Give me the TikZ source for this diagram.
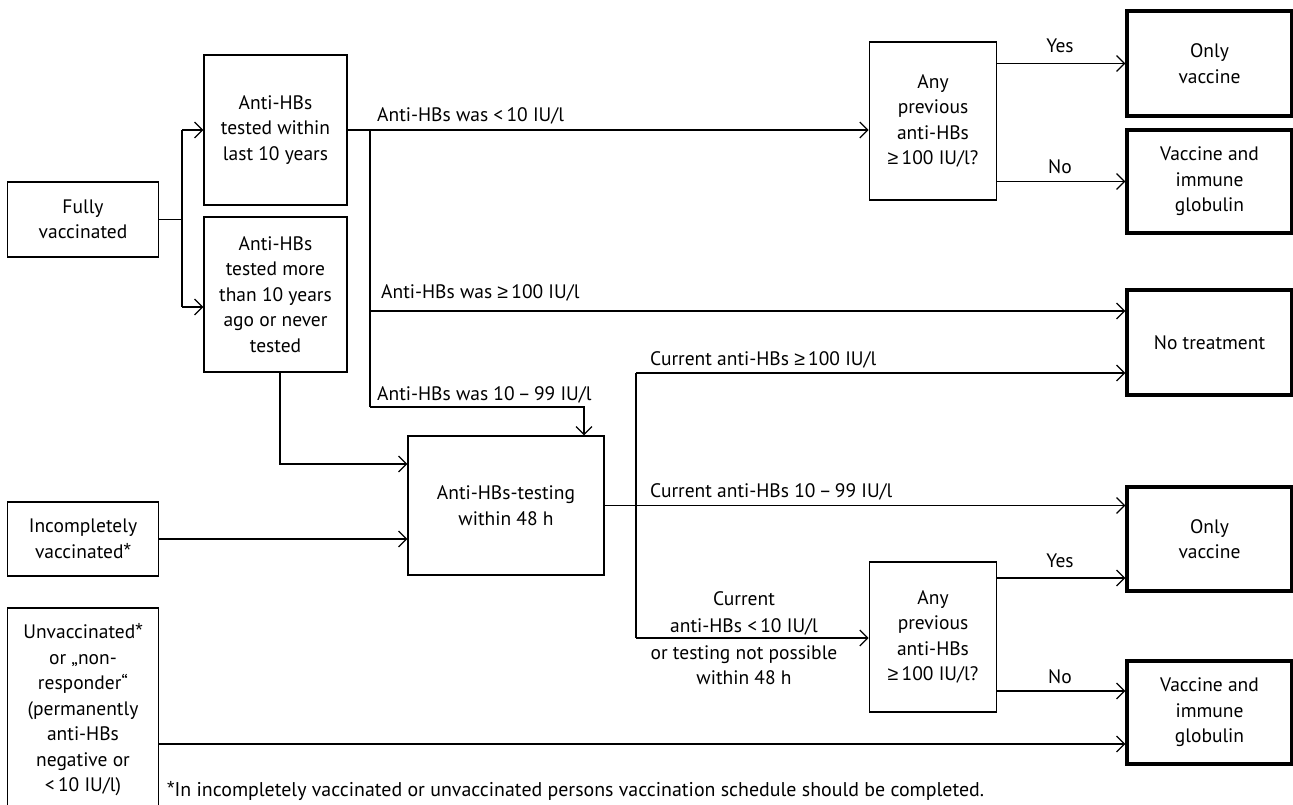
\documentclass[tikz,border=0pt]{standalone}
\usepackage{fontspec}
\setmainfont{PT Sans}
\newfontfamily\symf{Liberation Sans}
\newcommand{\gee}{{\symf ≥}}
\newcommand{\starmark}{{\symf\fontsize{19pt}{19pt}\selectfont\raisebox{2pt}{*}}}
\usetikzlibrary{arrows.meta}
\tikzset{
  every node/.style={font=\fontsize{19.5pt}{25.5pt}\selectfont},
  box/.style={draw, line width=1.2pt, align=center, inner sep=0pt},
  outbox/.style={draw, line width=3.2pt, align=center, inner sep=0pt, minimum width=165pt},
  ln/.style={line width=1.2pt},
  arr/.style={line width=1.2pt, -{Straight Barb[length=8pt,width=16pt]}},
  lbl/.style={inner sep=0pt, anchor=base west},
  clbl/.style={inner sep=0pt, anchor=base, align=center},
}
\begin{document}
\begin{tikzpicture}[x=1pt,y=-1pt]
\useasboundingbox (0,0) rectangle (1293,805);
% left column
\node[box, minimum width=150.5pt, minimum height=75pt] (fully) at (83,219.5) {Fully\\vaccinated};
\node[box, minimum width=150.5pt, minimum height=74pt] (incomplete) at (83,539) {Incompletely\\vaccinated\starmark};
\node[box, minimum width=150.5pt, minimum height=204pt] (unvacc) at (83,710) {Unvaccinated\starmark\\or „non-\\responder“\\(permanently\\anti-HBs\\negative or\\<\,10 IU/l)};
% second column
\node[box, minimum width=143pt, minimum height=150pt] (within) at (275.5,130) {Anti-HBs\\tested within\\last 10 years};
\node[box, minimum width=143pt, minimum height=155pt] (more) at (275.5,294.5) {Anti-HBs\\tested more\\than 10 years\\ago or never\\tested};
\node[box, minimum width=196pt, minimum height=139pt] (testing) at (506,505.5) {Anti-HBs-testing\\within 48 h};
% decision boxes
\node[box, minimum width=127.5pt, minimum height=158pt] (anyprev1) at (933,121) {Any\\previous\\anti-HBs\\\gee\,100 IU/l?};
\node[box, minimum width=127.5pt, minimum height=150pt] (anyprev2) at (933,637) {Any\\previous\\anti-HBs\\\gee\,100 IU/l?};
% outcome boxes
\node[outbox, minimum height=105pt] (onlyvac1) at (1209.5,63.5) {Only\\vaccine};
\node[outbox, minimum height=103pt] (vig1) at (1209.5,181.5) {Vaccine and\\immune\\globulin};
\node[outbox, minimum height=105pt] (notreat) at (1209.5,342.5) {No treatment};
\node[outbox, minimum height=104pt] (onlyvac2) at (1209.5,539) {Only\\vaccine};
\node[outbox, minimum height=103pt] (vig2) at (1209.5,712.5) {Vaccine and\\immune\\globulin};
% junction coordinates
\coordinate (fj1) at (182,130);
\coordinate (fj2) at (182,307);
\coordinate (v1) at (370,130);
\coordinate (v2) at (370,311);
\coordinate (v3) at (370,407);
\coordinate (t1) at (584,407);
\coordinate (m1) at (280,464);
\coordinate (c1) at (636,373);
\coordinate (c2) at (636,638);
\coordinate (ay2) at (1000,578);
\coordinate (an2) at (1000,691);
\coordinate (u1) at (0,744);
% connectors
\draw[ln] (fully.east) -- (fully.east -| fj1);
\draw[ln] (fj1) -- (fj2);
\draw[arr] (fj1) -- (within.west);
\draw[arr] (fj2) -- (more.west |- fj2);
\draw[arr] (within.east) -- (anyprev1.west |- within.east);
\draw[ln] (v1) -- (v3);
\draw[arr] (v2) -- (notreat.west |- v2);
\draw[arr] (v3) -| (testing.north -| t1);
\draw[arr] (more.south -| m1) |- (testing.west |- m1);
\draw[arr] (incomplete.east) -- (testing.west |- incomplete.east);
\draw[arr] (testing.east) -- (onlyvac2.west |- testing.east);
\draw[ln] (c1) -- (c2);
\draw[arr] (c1) -- (notreat.west |- c1);
\draw[arr] (c2) -- (anyprev2.west |- c2);
\draw[arr] (anyprev1.east |- onlyvac1.west) -- (onlyvac1.west);
\draw[arr] (anyprev1.east |- vig1.west) -- (vig1.west);
\draw[arr] (anyprev2.east |- ay2) -- (onlyvac2.west |- ay2);
\draw[arr] (anyprev2.east |- an2) -- (vig2.west |- an2);
\draw[arr] (unvacc.east |- u1) -- (vig2.west |- u1);
% labels
\node[lbl] (l1) at (377,122) {Anti-HBs was <\,10 IU/l};
\node[lbl] (l2) at (381,298) {Anti-HBs was \gee\,100 IU/l};
\node[lbl] (l3) at (377,400) {Anti-HBs was 10\,–\,99 IU/l};
\node[lbl] (l4) at (650,365) {Current anti-HBs \gee\,100 IU/l};
\node[lbl] (l5) at (650,497) {Current anti-HBs 10\,–\,99 IU/l};
\node[clbl] (l6a) at (744,605) {Current};
\node[clbl] (l6b) at (744,632) {anti-HBs <\,10 IU/l};
\node[clbl] (l6c) at (744,659) {or testing not possible};
\node[clbl] (l6d) at (744,684) {within 48 h};
\node[clbl] (y1) at (1060,53) {Yes};
\node[clbl] (n1) at (1060,174) {No};
\node[clbl] (y2) at (1060,567) {Yes};
\node[clbl] (n2) at (1060,683) {No};
\node[lbl, font=\fontsize{19.9pt}{25pt}\selectfont] (fn) at (167,796) {\starmark In incompletely vaccinated or unvaccinated persons vaccination schedule should be completed.};
\end{tikzpicture}
\end{document}
